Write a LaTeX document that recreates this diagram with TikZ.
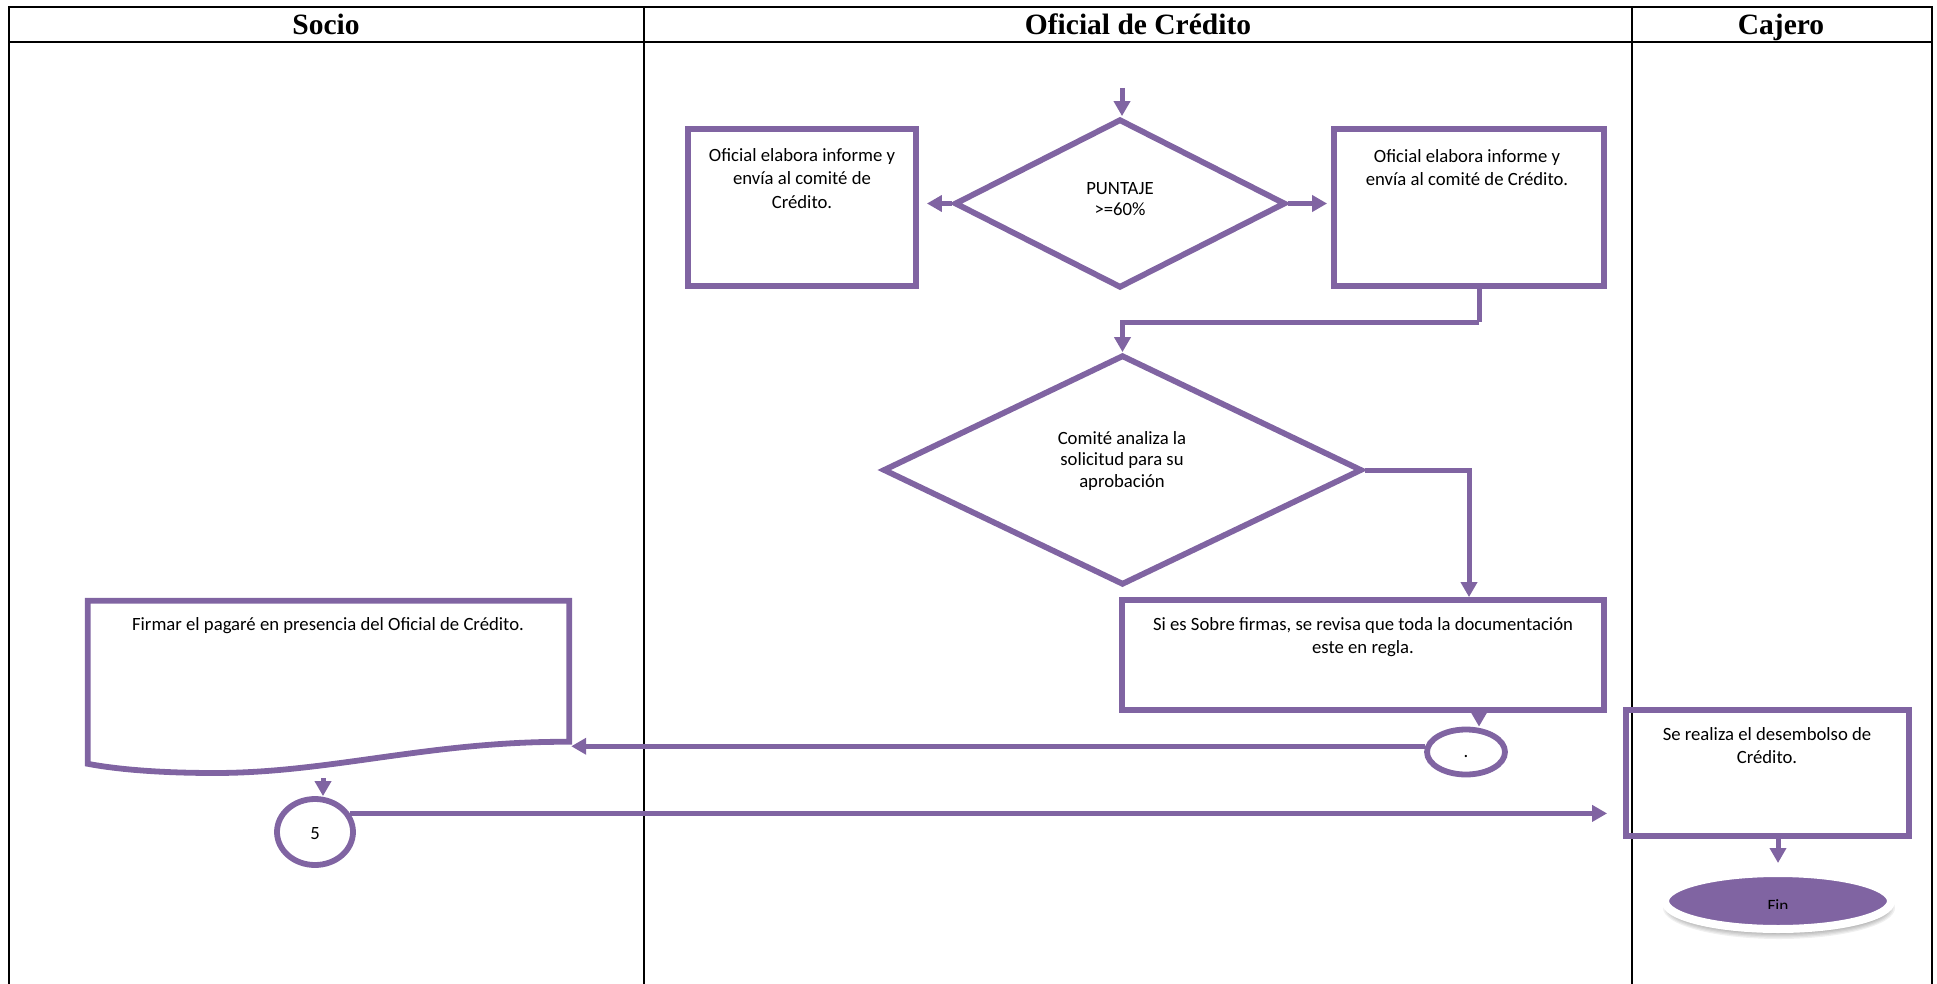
\documentclass[tikz,border=0pt]{standalone}
\usepackage{fontspec}
\setmainfont{Carlito}
\newfontfamily\headfont{Liberation Serif}
\usetikzlibrary{arrows.meta,shapes.geometric,calc}
\definecolor{flowpurple}{HTML}{8064A2}

\begin{document}
\begin{tikzpicture}[x=1pt,y=-1pt,
  lane/.style={line width=2.2pt,black},
  conn/.style={line width=5pt,flowpurple,-{Triangle[length=15pt,width=16pt]}},
  plainline/.style={line width=5pt,flowpurple},
  head/.style={font=\headfont\bfseries\fontsize{29.5}{31}\selectfont,anchor=base,inner sep=0},
  txt/.style={font=\fontsize{18.7}{23.5}\selectfont,align=center,anchor=north,inner sep=0,text=black},
  dtxt/.style={font=\fontsize{18.7}{21.5}\selectfont,align=center,anchor=north,inner sep=0,text=black},
  stepbox/.style={draw=flowpurple,line width=5.8pt,rectangle,inner sep=0},
  decision/.style={draw=flowpurple,line width=5.8pt,diamond,inner sep=0,aspect=1},
  connector/.style={draw=flowpurple,line width=5.8pt,ellipse,inner sep=0},
]
\useasboundingbox (0,0) rectangle (1937,984);

% swimlane frame
\draw[lane] (9,984) -- (9,7) -- (1932,7) -- (1932,984);
\draw[lane] (9,42) -- (1932,42);
\draw[lane] (644,7) -- (644,984);
\draw[lane] (1632,7) -- (1632,984);
\node[head] (hsocio) at (326,34.5) {Socio};
\node[head] (hoficial) at (1138,34.5) {Oficial de Crédito};
\node[head] (hcajero) at (1781,34.5) {Cajero};

% Oficial de Crédito lane
\node[decision,minimum width=331pt,minimum height=169pt] (d1) at (1120,203.5) {};
\node[dtxt] (d1t) at (1120,182) {PUNTAJE\\>=60\%};
\node[stepbox,minimum width=228pt,minimum height=157pt] (lbox) at (802,207.5) {};
\node[txt] (lboxt) at (802,148) {Oficial elabora informe y\\envía al comité de\\Crédito.};
\node[stepbox,minimum width=270pt,minimum height=157pt] (rbox) at (1469,207.5) {};
\node[txt] (rboxt) at (1467,149) {Oficial elabora informe y\\envía al comité de Crédito.};
\node[decision,minimum width=479pt,minimum height=230pt] (d2) at (1122.5,470) {};
\node[dtxt] (d2t) at (1122,431) {Comité analiza la\\solicitud para su\\aprobación};
\node[stepbox,minimum width=482pt,minimum height=110pt] (sbox) at (1363,655) {};
\node[txt] (sboxt) at (1363,617) {Si es Sobre firmas, se revisa que toda la documentación\\este en regla.};
\node[connector,minimum width=78pt,minimum height=45pt] (e4) at (1466,752) {};
\node[font=\fontsize{18.7}{22}\selectfont,inner sep=0,anchor=base] (e4t) at (1466,757) {.};

% Socio lane
\node[inner sep=0,minimum width=481pt,minimum height=172pt] (doc) at (328.5,687) {};
\draw[line width=5.8pt,flowpurple,line join=miter]
  (doc.north west) -- (doc.north east) -- ($(doc.north east)+(0,141)$)
  .. controls (430,741) and (330,773) .. (215,773)
  .. controls (150,773) and (110,768) .. ($(doc.north west)+(0,163)$) -- cycle;
\node[txt] (doct) at (328,617) {Firmar el pagaré en presencia del Oficial de Crédito.};
\node[connector,minimum width=76pt,minimum height=66pt] (c5) at (315,832) {};
\node[font=\fontsize{18.7}{22}\selectfont,inner sep=0] (c5t) at (315,834) {5};

% Cajero lane
\node[stepbox,minimum width=283pt,minimum height=126pt] (srbox) at (1767.5,773) {};
\node[txt] (srboxt) at (1767,727) {Se realiza el desembolso de\\Crédito.};
\foreach \i in {0,...,5}
  \fill[black,opacity=0.06] (1779,908) ellipse [x radius={116-1.6*\i}, y radius={31-1.3*\i}];
\node[ellipse,fill=flowpurple,draw=white,line width=8pt,minimum width=226pt,minimum height=56pt,inner sep=0] (fin) at (1778,901) {};
\begin{scope}
  \clip (1700,880) rectangle (1860,908.5);
  \node[font=\fontsize{17.3}{20}\selectfont,text=black,anchor=base,inner sep=0] (fint) at (1778,911) {Fin};
\end{scope}

% connectors
\coordinate (start) at (1122,88);
\draw[conn] (start) -- (start |- d1.north);
\draw[conn,shorten >=8pt] (d1.west) -- (d1.west -| lbox.east);
\draw[conn,shorten >=4pt] (d1.east) -- (d1.east -| rbox.west);
\coordinate (rx) at (1479,322);
\draw[plainline] (rx |- rbox.south) -- (rx);
\draw[conn] (rx) -| (d2.north);
\coordinate (dx) at (1469,468);
\draw[conn] (d2.east) -| (dx |- sbox.north);
\coordinate (sx) at (1479,0);
\draw[conn] (sx |- sbox.south) -- (sx |- e4.north);
\draw[conn,shorten >=2pt] (e4.172) -- (e4.172 -| doc.east);
\coordinate (docb) at (323,778);
\draw[conn] (docb) -- (docb |- c5.north);
\draw[conn,shorten >=16pt] (c5.28) -- (c5.28 -| srbox.west);
\draw[conn,shorten >=6pt] (fin.north |- srbox.south) -- (fin.north);
\end{tikzpicture}
\end{document}
